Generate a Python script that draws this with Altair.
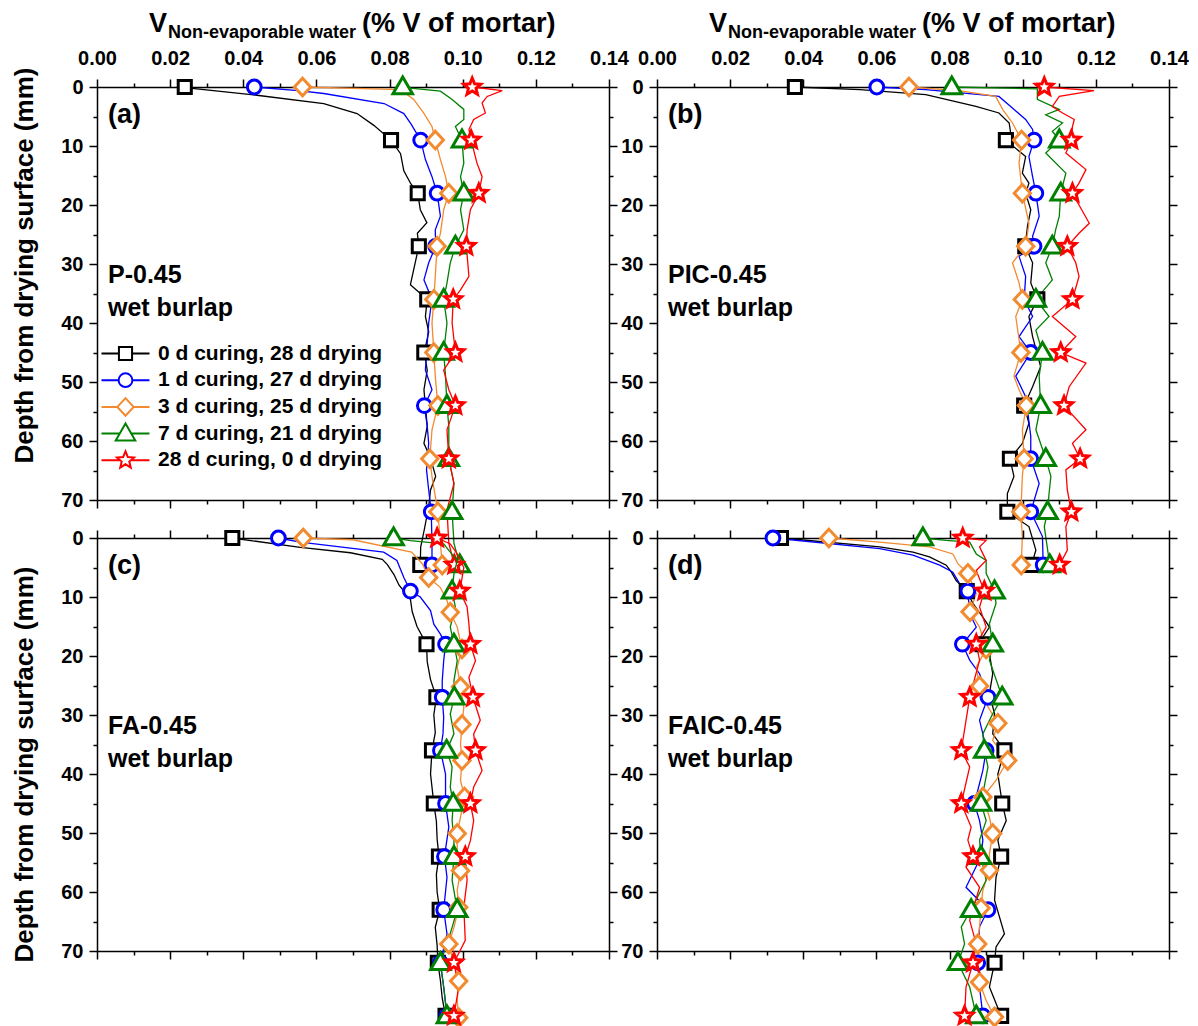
import math
import altair as alt
import pandas as pd

FONT = "Liberation Sans"

SERIES = [
    "0 d curing, 28 d drying",
    "1 d curing, 27 d drying",
    "3 d curing, 25 d drying",
    "7 d curing, 21 d drying",
    "28 d curing, 0 d drying",
]
COLORS = ["#000000", "#0000FF", "#F28A30", "#008000", "#FF0000"]

X_TICKS = [0.00, 0.01, 0.02, 0.03, 0.04, 0.05, 0.06, 0.07, 0.08, 0.09, 0.10, 0.11, 0.12, 0.13, 0.14]
Y_TICKS = [0, 5, 10, 15, 20, 25, 30, 35, 40, 45, 50, 55, 60, 65, 70]

PANEL_TAGS = ["(a)", "(b)", "(c)", "(d)"]
PANEL_MIXES = ["P-0.45", "PIC-0.45", "FA-0.45", "FAIC-0.45"]
CURING = "wet burlap"
X_TITLE_PARTS = ["V", "Non-evaporable water", "(% V of mortar)"]
Y_TITLE = "Depth from drying surface (mm)"

# ---------------- panel (a) P-0.45 : (depth mm, value) ----------------
A0_LINE = [(0.1, 0.0241), (1.4, 0.0437), (2.8, 0.0620), (4.5, 0.0711), (6.5, 0.0757), (11.3, 0.0830), (14.2, 0.0839),
           (16.4, 0.0858), (20.8, 0.0884), (23, 0.0902), (24.8, 0.0876), (29.8, 0.0870), (33.5, 0.0857), (38.9, 0.0898),
           (41.5, 0.0907), (48, 0.0903), (51.3, 0.0894), (57.5, 0.0903), (60.4, 0.0894), (62.9, 0.0912), (66, 0.0926),
           (68.3, 0.0912), (71.1, 0.0907), (75, 0.0895), (78, 0.0885)]
A0_MARK = [(0, 0.0240), (9, 0.0804), (18, 0.0877), (27, 0.0880), (36, 0.0903), (45, 0.0895), (81, 0.0884)]
A1_LINE = [(0.6, 0.0550), (1.1, 0.0620), (2.8, 0.0785), (4.5, 0.0839), (6.2, 0.0858), (12.3, 0.0898), (15.2, 0.0916),
           (21.9, 0.0939), (24.2, 0.0925), (29.8, 0.0907), (32.7, 0.0894), (36, 0.0916), (40, 0.0907), (43.4, 0.0903),
           (48, 0.0898), (51.3, 0.0916), (57.5, 0.0903), (60.4, 0.0907), (64.9, 0.0901), (68.3, 0.0907), (77.3, 0.0916)]
A1_MARK = [(0, 0.0430), (9, 0.0885), (18, 0.0930), (27, 0.0926), (54, 0.0895), (72, 0.0914), (81, 0.0916)]
A2_LINE = [(0.45, 0.0830), (2.1, 0.0866), (4.4, 0.0893), (6.7, 0.0916), (12.3, 0.0939), (15.2, 0.0953), (20.8, 0.0948),
           (24.8, 0.0939), (32.1, 0.0925), (40, 0.0916), (49, 0.0925), (58.1, 0.0916), (66, 0.0916), (77.3, 0.0939)]
A2_MARK = [(0, 0.0562), (9, 0.0925), (18, 0.0962), (27, 0.0930), (36, 0.0921), (45, 0.0921), (54, 0.0932), (63, 0.0910),
           (72, 0.0932), (81, 0.0944)]
A3_LINE = [(0.2, 0.0857), (0.7, 0.0939), (2.1, 0.0971), (3.8, 0.1003), (5.5, 0.1003), (6.7, 0.0980), (12.9, 0.1003),
           (15.2, 0.0994), (20.8, 0.0994), (24.2, 0.1003), (29.8, 0.0966), (33.2, 0.0957), (40, 0.0957), (49, 0.0953),
           (57.5, 0.0962), (67.2, 0.0976), (77.3, 0.0976)]
A3_MARK = [(0, 0.0836), (9, 0.0998), (18, 0.1003), (27, 0.0980), (36, 0.0948), (45, 0.0948), (54, 0.0957), (63, 0.0962),
           (72, 0.0971), (81, 0.0992)]
A4_LINE = [(0.6, 0.1108), (1.6, 0.1067), (2.7, 0.1053), (4.4, 0.1062), (5.5, 0.1030), (7.2, 0.1017), (12.9, 0.1039),
           (15.2, 0.1053), (20.8, 0.1021), (24.2, 0.1012), (32.1, 0.1017), (34.4, 0.0994), (40, 0.0971), (48, 0.0948),
           (51.3, 0.0962), (58.1, 0.0957), (67.2, 0.0976), (71.7, 0.0957), (77.3, 0.0962)]
A4_MARK = [(0, 0.1026), (9, 0.1023), (18, 0.1044), (27, 0.1010), (36, 0.0974), (45, 0.0980), (54, 0.0980), (63, 0.0962),
           (81, 0.0977)]

# ---------------- panel (b) PIC-0.45 ----------------
B0_LINE = [(0.45, 0.0555), (1.3, 0.0735), (3.3, 0.0872), (4.4, 0.0935), (6.1, 0.0963), (7.8, 0.0967), (11.8, 0.1008),
           (14.6, 0.0999), (16.3, 0.1017), (18, 0.1008), (20.8, 0.1022), (23.6, 0.1013), (29.8, 0.1027), (33.2, 0.1022),
           (38.9, 0.1017), (42.3, 0.1027), (47.4, 0.1049), (50.8, 0.1027), (57, 0.1017), (60.4, 0.0999), (66, 0.0976),
           (68.9, 0.0958), (74.5, 0.1017), (78.5, 0.1036)]
B0_MARK = [(0, 0.0377), (9, 0.0954), (27, 0.1007), (36, 0.1040), (54, 0.1004), (63, 0.0965), (72, 0.0958), (81, 0.1024)]
B1_LINE = [(0.45, 0.0735), (1.6, 0.0935), (3.3, 0.0967), (5.5, 0.1008), (7.2, 0.1027), (11.8, 0.1017), (15.2, 0.1027),
           (21.9, 0.1045), (25.3, 0.1027), (28.7, 0.0990), (32.1, 0.1008), (36, 0.1004), (38.9, 0.1027), (42.3, 0.0990),
           (49, 0.0981), (52.5, 0.1008), (54.7, 0.1013), (59.2, 0.1022), (67.2, 0.1045), (76.2, 0.1054)]
B1_MARK = [(0, 0.0601), (9, 0.1031), (18, 0.1036), (27, 0.1031), (45, 0.1022), (63, 0.1022), (72, 0.1022), (81, 0.1056)]
B2_LINE = [(0.6, 0.0826), (1.6, 0.0926), (3.8, 0.0945), (6.1, 0.0972), (12.9, 0.0990), (23.1, 0.1017), (29.8, 0.0972),
           (33.2, 0.0990), (38.9, 0.0981), (49, 0.0976), (51.3, 0.0990), (58.1, 0.0999), (66, 0.0999), (76.2, 0.0999)]
B2_MARK = [(0, 0.0689), (9, 0.0997), (18, 0.0999), (27, 0.1008), (36, 0.0999), (45, 0.0995), (54, 0.1010), (63, 0.1004),
           (72, 0.0995), (81, 0.0996)]
B3_LINE = [(0.3, 0.1040), (2.1, 0.1040), (3.8, 0.1100), (4.7, 0.1063), (6.1, 0.1109), (7.5, 0.1081), (11.2, 0.1063),
           (14.6, 0.1118), (21.9, 0.1100), (24.2, 0.1090), (29.8, 0.1063), (32.7, 0.1081), (38.9, 0.1072), (41.2, 0.1036),
           (49, 0.1045), (58.1, 0.1036), (66, 0.1077), (68.9, 0.1072), (74.5, 0.1059)]
B3_MARK = [(0, 0.0806), (9, 0.1100), (18, 0.1104), (27, 0.1081), (36, 0.1036), (45, 0.1054), (54, 0.1049), (63, 0.1063),
           (72, 0.1068), (81, 0.1074)]
B4_LINE = [(0.6, 0.1195), (1.6, 0.1100), (3.3, 0.1081), (4.4, 0.1109), (5.5, 0.1141), (6.7, 0.1136), (11.2, 0.1118),
           (14, 0.1173), (16.3, 0.1154), (23.1, 0.1182), (24.8, 0.1154), (29.8, 0.1145), (32.1, 0.1154), (38.9, 0.1081),
           (42.3, 0.1145), (46.8, 0.1173), (50.8, 0.1127), (58.1, 0.1173), (60.4, 0.1136), (64.9, 0.1118), (68.3, 0.1122),
           (74.5, 0.1118), (78.5, 0.1122)]
B4_MARK = [(0, 0.1059), (9, 0.1133), (18, 0.1136), (27, 0.1122), (36, 0.1136), (45, 0.1104), (54, 0.1113), (63, 0.1157),
           (72, 0.1133), (81, 0.1101)]

# ---------------- panel (c) FA-0.45 ----------------
C0_LINE = [(1.6, 0.0556), (2.5, 0.0693), (3.6, 0.0780), (4.5, 0.0794), (6.2, 0.0812), (8, 0.0826), (10.4, 0.0857),
           (12.5, 0.0862), (15, 0.0875), (21, 0.0903), (24, 0.0912), (30, 0.0921), (33, 0.0925), (40, 0.0912),
           (48, 0.0928), (51, 0.0930), (57, 0.0928), (60, 0.0930), (66, 0.0925), (69, 0.0930), (75, 0.0939), (78, 0.0944)]
C0_MARK = [(0, 0.0370), (18, 0.0901), (27, 0.0928), (36, 0.0916), (45, 0.0921), (54, 0.0935), (63, 0.0937), (72, 0.0932),
           (81, 0.0953)]
C1_LINE = [(0.7, 0.0556), (2.4, 0.0784), (3.8, 0.0820), (6.7, 0.0839), (10, 0.0884), (12.3, 0.0912), (14.6, 0.0921),
           (16.3, 0.0939), (20.8, 0.0948), (24.2, 0.0944), (30.4, 0.0948), (33.2, 0.0946), (40, 0.0953), (49, 0.0962),
           (57.5, 0.0957), (67.1, 0.0957), (76.1, 0.0948)]
C1_MARK = [(0, 0.0496), (9, 0.0857), (18, 0.0953), (27, 0.0944), (36, 0.0939), (45, 0.0953), (54, 0.0950), (63, 0.0948),
           (72, 0.0939), (81, 0.0957)]
C2_LINE = [(0.3, 0.0700), (2.4, 0.0860), (4.4, 0.0890), (8.4, 0.0939), (10.6, 0.0957), (15.1, 0.0985), (21.9, 0.0985),
           (28.7, 0.1003), (34.9, 0.0994), (41.1, 0.0994), (47.3, 0.0994), (53.2, 0.0985), (59.7, 0.0985), (66, 0.0976),
           (72.2, 0.0976), (78.4, 0.0985)]
C2_MARK = [(0, 0.0564), (6.7, 0.0907), (12.6, 0.0966), (18.8, 0.0998), (25.2, 0.0994), (31.6, 0.0998), (37.7, 0.0998),
           (43.9, 0.1005), (50.1, 0.0985), (56.4, 0.0994), (62.6, 0.0989), (68.8, 0.0962), (75.1, 0.0989), (81.3, 0.0989)]
C3_LINE = [(0.45, 0.0857), (1, 0.0948), (2.1, 0.0962), (3.8, 0.0985), (6.1, 0.0976), (11.7, 0.0980), (15.1, 0.0966),
           (20.8, 0.0985), (24.2, 0.0976), (29.8, 0.0966), (33.2, 0.0976), (38.8, 0.0971), (42.2, 0.0966), (47.9, 0.0971),
           (51.3, 0.0976), (58, 0.0971), (66, 0.0971), (68.8, 0.0957), (76.1, 0.0948)]
C3_MARK = [(0, 0.0811), (9, 0.0971), (18, 0.0976), (27, 0.0977), (36, 0.0956), (45, 0.0974), (54, 0.0976), (63, 0.0985),
           (72, 0.0939), (81, 0.0957)]
C4_LINE = [(1, 0.0966), (2.7, 0.0985), (5, 0.1003), (11.7, 0.1012), (14.6, 0.1017), (20.8, 0.1035), (23.6, 0.1017),
           (30.9, 0.1048), (33.2, 0.1030), (39.4, 0.1053), (42.2, 0.1030), (47.9, 0.1030), (51.3, 0.1021), (58, 0.1012),
           (62.6, 0.1003), (68.2, 0.1007), (76.1, 0.0989)]
C4_MARK = [(0, 0.0930), (9, 0.0992), (18, 0.1021), (27, 0.1028), (36, 0.1035), (45, 0.1021), (54, 0.1007), (72, 0.0976),
           (81, 0.0976)]

# ---------------- panel (d) FAIC-0.45 ----------------
D0_LINE = [(1.5, 0.0609), (2.4, 0.0700), (3.2, 0.0745), (4.6, 0.0791), (5.8, 0.0805), (7.2, 0.0818), (11.1, 0.0864),
           (13.4, 0.0891), (15.1, 0.0909), (16.8, 0.0891), (19.6, 0.0909), (23, 0.0918), (26.4, 0.0909), (29.8, 0.0923),
           (33.2, 0.0918), (40, 0.0932), (47.9, 0.0955), (51.2, 0.0932), (57.5, 0.0927), (61.4, 0.0923), (67.1, 0.0950),
           (69.3, 0.0927), (76.1, 0.0909)]
D0_MARK = [(0, 0.0339), (9, 0.0847), (18, 0.0890), (36, 0.0950), (45, 0.0944), (54, 0.0941), (72, 0.0923), (81, 0.0941)]
D1_LINE = [(1.8, 0.0609), (2.9, 0.0700), (4.6, 0.0773), (5.8, 0.0809), (7.7, 0.0827), (12.8, 0.0855), (15.1, 0.0873),
           (20.7, 0.0855), (23, 0.0882), (30.9, 0.0882), (33.2, 0.0891), (39.4, 0.0891), (47.9, 0.0882), (51.2, 0.0891),
           (54, 0.0886), (59.2, 0.0845), (65.9, 0.0882), (76.1, 0.0882)]
D1_MARK = [(0, 0.0317), (9, 0.0850), (18, 0.0835), (27, 0.0905), (36, 0.0900), (45, 0.0868), (63, 0.0905), (72, 0.0877),
           (81, 0.0891)]
D2_LINE = [(0.7, 0.0609), (1.5, 0.0745), (2.7, 0.0809), (4.4, 0.0823), (9.4, 0.0873), (15.1, 0.0882), (21.9, 0.0873),
           (28.1, 0.0900), (34.3, 0.0918), (41.1, 0.0927), (47.3, 0.0909), (53.5, 0.0909), (59.7, 0.0891), (65.9, 0.0882),
           (72.1, 0.0882), (78.4, 0.0900)]
D2_MARK = [(0, 0.0470), (6, 0.0850), (12.5, 0.0856), (18.8, 0.0900), (25.1, 0.0882), (31.4, 0.0932), (37.7, 0.0959),
           (43.9, 0.0891), (50.1, 0.0918), (56.3, 0.0909), (62.7, 0.0886), (68.8, 0.0877), (75.3, 0.0882), (81.2, 0.0923)]
D3_LINE = [(0.4, 0.0791), (0.7, 0.0855), (2.7, 0.0873), (3.8, 0.0900), (6, 0.0900), (11.1, 0.0927), (14.5, 0.0909),
           (20.7, 0.0909), (29.8, 0.0918), (33.2, 0.0891), (38.8, 0.0905), (47.9, 0.0900), (51.2, 0.0882), (58, 0.0900),
           (65.9, 0.0832), (68.8, 0.0841), (76.1, 0.0855)]
D3_MARK = [(0, 0.0727), (9, 0.0923), (18, 0.0918), (27, 0.0944), (36, 0.0895), (45, 0.0886), (54, 0.0886), (63, 0.0859),
           (72, 0.0823), (81, 0.0873)]
D4_LINE = [(0.4, 0.0900), (1.5, 0.0882), (3.8, 0.0900), (5.5, 0.0873), (11.7, 0.0882), (15.1, 0.0900), (20.7, 0.0882),
           (30.9, 0.0845), (38.8, 0.0855), (49, 0.0859), (51.2, 0.0850), (55.8, 0.0845), (59.2, 0.0882), (64.8, 0.0855),
           (68.8, 0.0873), (76.1, 0.0845)]
D4_MARK = [(0, 0.0836), (9, 0.0895), (18, 0.0873), (27, 0.0855), (36, 0.0832), (45, 0.0832), (54, 0.0864), (72, 0.0864),
           (81, 0.0841)]

PANELS = [
    ([A0_LINE, A1_LINE, A2_LINE, A3_LINE, A4_LINE], [A0_MARK, A1_MARK, A2_MARK, A3_MARK, A4_MARK]),
    ([B0_LINE, B1_LINE, B2_LINE, B3_LINE, B4_LINE], [B0_MARK, B1_MARK, B2_MARK, B3_MARK, B4_MARK]),
    ([C0_LINE, C1_LINE, C2_LINE, C3_LINE, C4_LINE], [C0_MARK, C1_MARK, C2_MARK, C3_MARK, C4_MARK]),
    ([D0_LINE, D1_LINE, D2_LINE, D3_LINE, D4_LINE], [D0_MARK, D1_MARK, D2_MARK, D3_MARK, D4_MARK]),
]

# ---------------- marker shapes (unit space) ----------------
def star_path(R=1.12, r=0.5):
    pts = []
    for k in range(10):
        ang = math.radians(-90 + 36 * k)
        rad = R if k % 2 == 0 else r
        pts.append((rad * math.cos(ang), rad * math.sin(ang)))
    return "M" + "L".join(f"{x:.3f},{y:.3f}" for x, y in pts) + "Z"

SQUARE = "M-0.82,-0.82H0.82V0.82H-0.82Z"
CIRCLE = "M0.86,0A0.86,0.86,0,1,1,-0.86,0A0.86,0.86,0,1,1,0.86,0Z"
DIAMOND = "M0,-1.1L1.02,0L0,1.1L-1.02,0Z"
TRIANGLE = "M0,-1.25L1.22,0.85L-1.22,0.85Z"
STAR = star_path()
MARKERS = [SQUARE, CIRCLE, DIAMOND, TRIANGLE, STAR]
GAPS = [0.82, 0.86, 1.02, 0.72, 0.66]
LEGEND_SYMBOLS = [f"M-3,0H{-g}M{g},0H3" + m for m, g in zip(MARKERS, GAPS)]

W, H = 512, 413
TICK_MAJOR, TICK_MINOR = 8, 4


def build_frames(lines, marks):
    lrows, mrows = [], []
    for s, (L, M) in enumerate(zip(lines, marks)):
        for d, v in sorted(set(L) | set(M)):
            lrows.append({"series": SERIES[s], "depth": d, "value": v})
        for d, v in M:
            mrows.append({"series": SERIES[s], "depth": d, "value": v})
    return pd.DataFrame(lrows), pd.DataFrame(mrows)


def x_axis(orient, labels):
    return alt.Axis(
        orient=orient, values=X_TICKS, title=None, grid=False, labels=labels,
        labelExpr="round(datum.value*100) % 2 == 0 ? format(datum.value, '.2f') : ''",
        tickSize={"condition": {"test": "round(datum.value*100) % 2 == 0", "value": TICK_MAJOR}, "value": TICK_MINOR},
        tickWidth=1.5, tickColor="black", domainColor="black", domainWidth=1.5,
        labelFont=FONT, labelFontSize=20, labelFontWeight="bold", labelColor="black",
        labelPadding=11, labelFlush=False, labelOverlap=False,
    )


def y_axis(orient, labels, title):
    if title:
        kw = dict(title=Y_TITLE, titleFont=FONT, titleFontSize=26, titleFontWeight="bold", titleColor="black",
                  titleX=-73, titleY=title, titleAngle=-90, titleBaseline="middle", titleAlign="center")
    else:
        kw = dict(title=None)
    return alt.Axis(
        orient=orient, values=Y_TICKS, grid=False, labels=labels,
        labelExpr="datum.value % 10 == 0 ? datum.label : ''",
        tickSize={"condition": {"test": "datum.value % 10 == 0", "value": TICK_MAJOR}, "value": TICK_MINOR},
        tickWidth=1.5, tickColor="black", domainColor="black", domainWidth=1.5,
        labelFont=FONT, labelFontSize=20, labelFontWeight="bold", labelColor="black",
        labelPadding=6, labelFlush=False, labelOverlap=False, **kw,
    )


def text_layer(txt, size, x, y, baseline="middle"):
    return alt.Chart(pd.DataFrame({"t": [txt]})).mark_text(
        font=FONT, fontSize=size, fontWeight="bold", align="left", baseline=baseline, color="black"
    ).encode(text="t:N", x=alt.value(x), y=alt.value(y))


def panel(i):
    lines, marks = PANELS[i]
    ldf, mdf = build_frames(lines, marks)
    top = i < 2
    left = i % 2 == 0
    xs = alt.Scale(domain=[0, 0.14], nice=False, zero=False)
    ys = alt.Scale(domain=[0, 70], reverse=True, nice=False, zero=False)
    cs = alt.Scale(domain=SERIES, range=COLORS)
    ss = alt.Scale(domain=SERIES, range=MARKERS)
    ytitle_pos = 178 if top else 226

    line = alt.Chart(ldf).mark_line(strokeWidth=1.3, clip=False).encode(
        x=alt.X("value:Q", scale=xs, axis=x_axis("top", top)),
        y=alt.Y("depth:Q", scale=ys, axis=y_axis("left", True, ytitle_pos if left else None)),
        color=alt.Color("series:N", scale=cs, legend=None),
        order=alt.Order("depth:Q"),
    )
    pts = alt.Chart(mdf).mark_point(filled=False, fill="white", fillOpacity=1, strokeWidth=3, size=256,
                                     opacity=1, clip=False).encode(
        x=alt.X("value:Q", scale=xs, axis=x_axis("bottom", False)),
        y=alt.Y("depth:Q", scale=ys, axis=y_axis("right", False, None)),
        color=alt.Color("series:N", scale=cs, legend=None),
        shape=alt.Shape("series:N", scale=ss, legend=None),
    )
    layers = [
        line, pts,
        text_layer(PANEL_TAGS[i], 27, 11, 28),
        text_layer(PANEL_MIXES[i], 25, 11, 188),
        text_layer(CURING, 25, 11, 221),
    ]
    if top:
        layers += [
            text_layer(X_TITLE_PARTS[0], 27, 52, -55, "alphabetic"),
            text_layer(X_TITLE_PARTS[1], 18, 71, -49, "alphabetic"),
            text_layer(X_TITLE_PARTS[2], 27, 265, -55, "alphabetic"),
        ]
    if i == 0:
        leg_kw = dict(orient="none", legendX=18, legendY=256, title=None, padding=0,
                      labelFont=FONT, labelFontSize=21, labelFontWeight="bold", labelColor="black",
                      labelOffset=22, labelLimit=500, symbolSize=256, symbolStrokeWidth=2,
                      symbolFillColor="white", symbolOpacity=1, rowPadding=-1.3, gridAlign="all")
        leg = alt.Chart(pd.DataFrame({"series": SERIES})).transform_filter("false").mark_point(
            filled=False, fill="white", strokeWidth=2, size=256, opacity=1).encode(
            color=alt.Color("series:N", scale=alt.Scale(domain=SERIES, range=COLORS), legend=alt.Legend(**leg_kw)),
            shape=alt.Shape("series:N", scale=alt.Scale(domain=SERIES, range=LEGEND_SYMBOLS),
                            legend=alt.Legend(**leg_kw)),
        )
        layers.append(leg)

    return alt.layer(*layers).resolve_scale(
        color="independent", shape="independent", y="shared", x="shared"
    ).resolve_axis(x="independent", y="independent").properties(width=W, height=H)


chart = alt.concat(
    panel(0), panel(1), panel(2), panel(3),
    columns=2, spacing={"row": 38, "column": 48}, bounds="flush",
).resolve_scale(
    color="independent", shape="independent"
).properties(
    padding={"left": 10, "top": 10, "right": 0, "bottom": 0},
    background="white",
).configure_view(stroke=None)

chart.save("out.html", embed_options={"renderer": "svg", "actions": False})
